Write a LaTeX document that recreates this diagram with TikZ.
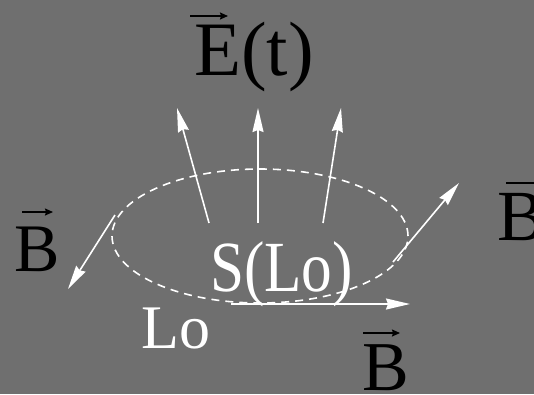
\documentclass[tikz,border=0pt]{standalone}
\usepackage{fontspec}
\setmainfont{Liberation Serif}
\usetikzlibrary{arrows.meta}
\definecolor{bg}{RGB}{111,111,111}
\tikzset{
  wa/.style={white, line width=1.6pt, -{Stealth[length=24pt,width=11pt,inset=2pt]}},
  vecarr/.style={black, line width=1.4pt, -{Stealth[length=8pt,width=7pt,inset=1pt]}},
  lbl/.style={anchor=base west, inner sep=0pt},
}
\begin{document}
\begin{tikzpicture}[x=1pt,y=1pt]
\fill[bg] (0,0) rectangle (534,-394);
\useasboundingbox (0,0) rectangle (534,-394);
\draw[white, line width=1.6pt, dash pattern=on 8pt off 6pt] (260,-236) ellipse [x radius=148, y radius=67];
% E arrows
\coordinate (e1s) at (209,-223); \coordinate (e1e) at (177,-108);
\coordinate (e2s) at (258,-223); \coordinate (e2e) at (258,-108);
\coordinate (e3s) at (323,-223); \coordinate (e3e) at (341,-108);
\draw[wa] (e1s) -- (e1e);
\draw[wa] (e2s) -- (e2e);
\draw[wa] (e3s) -- (e3e);
% B arrows
\coordinate (b1s) at (115,-215); \coordinate (b1e) at (68,-289);
\coordinate (b2s) at (393,-262); \coordinate (b2e) at (459,-183);
\coordinate (b3s) at (231,-304); \coordinate (b3e) at (410,-304);
\draw[wa] (b1s) -- (b1e);
\draw[wa] (b2s) -- (b2e);
\draw[wa] (b3s) -- (b3e);
% labels
\node[lbl, font=\fontsize{77}{77}\selectfont] (et) at (194,-75) {E(t)};
\draw[vecarr] ([shift={(-4,59)}]et.base west) -- ++(38,0);
\node[lbl, white, font=\fontsize{72}{72}\selectfont, xscale=0.85] (slo) at (210,-291) {S(Lo)};
\node[lbl, white, font=\fontsize{62}{62}\selectfont] (lo) at (141,-348) {Lo};
\node[lbl, font=\fontsize{68}{68}\selectfont] (bl) at (14,-271) {B};
\draw[vecarr] ([shift={(8,59)}]bl.base west) -- ++(31,0);
\node[lbl, font=\fontsize{72}{72}\selectfont] (br) at (497,-240) {B};
\draw[vecarr] ([shift={(9,57)}]br.base west) -- ++(40,0);
\node[lbl, font=\fontsize{70}{70}\selectfont] (bb) at (362,-390) {B};
\draw[vecarr] ([shift={(1,57)}]bb.base west) -- ++(37,0);
\end{tikzpicture}
\end{document}
